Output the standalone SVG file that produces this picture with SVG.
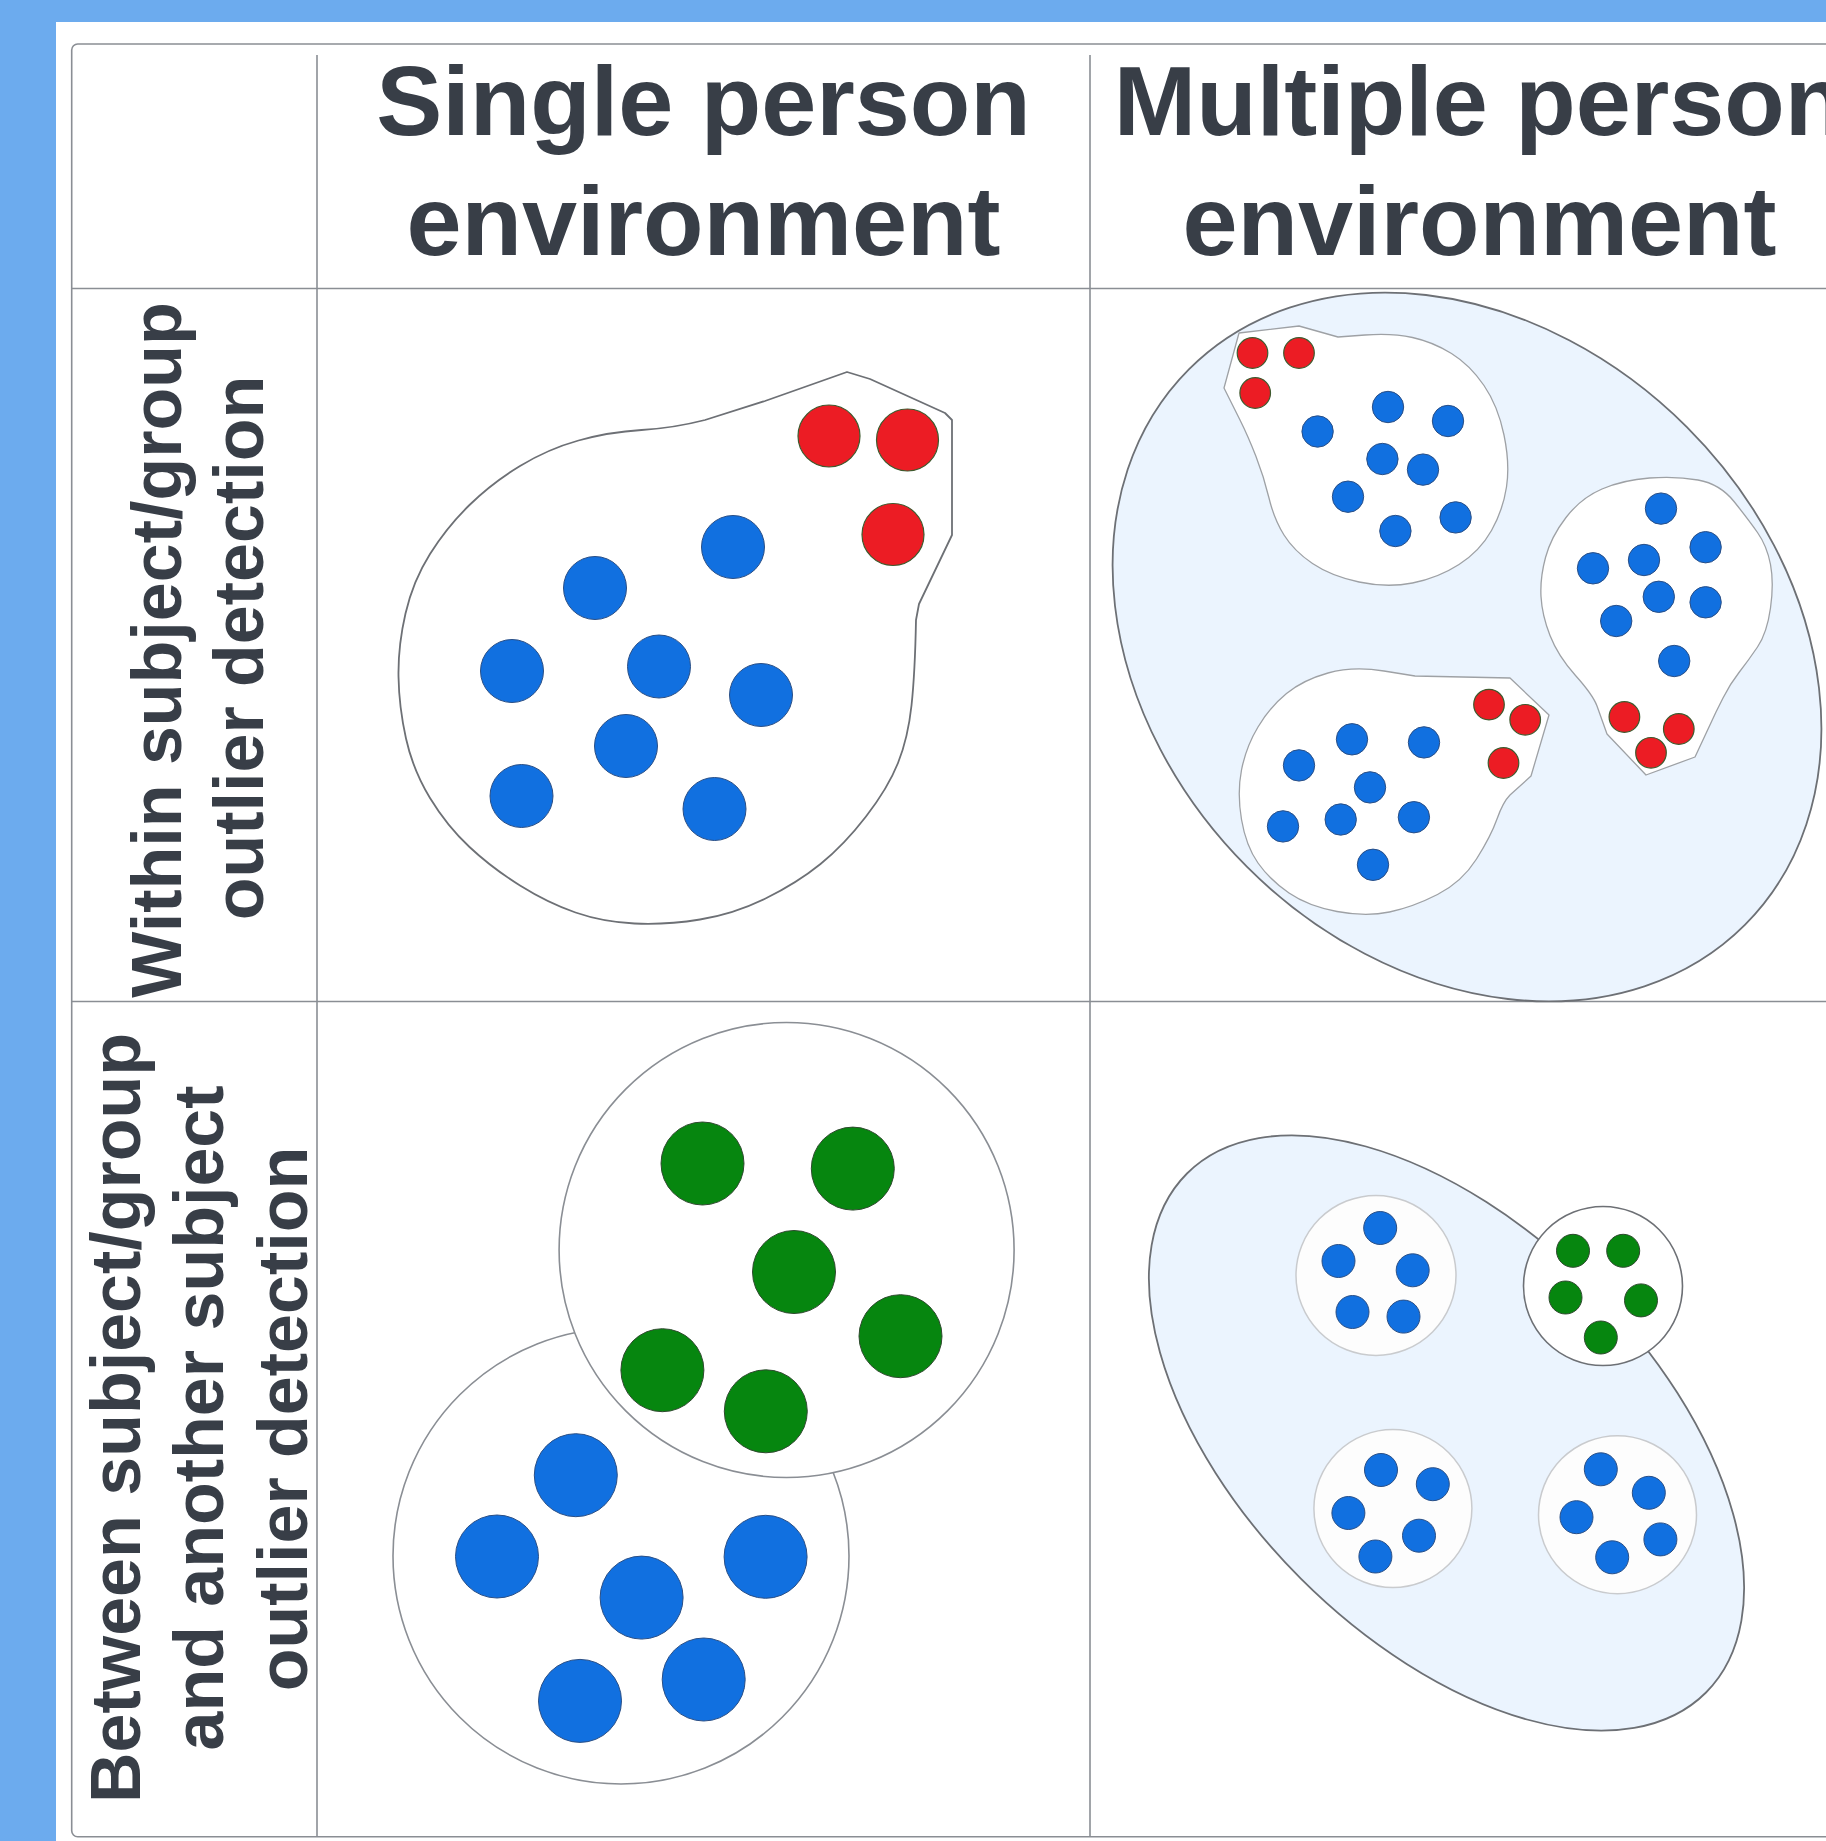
<svg xmlns="http://www.w3.org/2000/svg" width="1826" height="1841" viewBox="0 0 1826 1841">
<style>
.t{font-family:"Liberation Sans",Arial,sans-serif;font-weight:bold;fill:#383e47;text-anchor:middle}
.h{font-size:99px}
.r{font-size:70px}
.grid{stroke:#8a8e94;stroke-width:1.6;fill:none}
.blob{fill:#fff;stroke:#6d7075;stroke-width:1.8;stroke-linejoin:round}
.sub{fill:#fff;stroke:#9ea1a5;stroke-width:1.3;stroke-linejoin:round}
.env{fill:#ebf4fe;stroke:#6d7075;stroke-width:1.8}
.bl{fill:#1170e0;stroke:#2a4f86;stroke-width:1}
.rd{fill:#ec1c24;stroke:#3d5a2e;stroke-width:1.2}
.gr{fill:#06860f;stroke:#2f4a2f;stroke-width:1}
.ring{fill:#fdfdfd;stroke:#c9cbce;stroke-width:1.5}
.ring2{fill:#fff;stroke:#6d7075;stroke-width:1.6}
.big{fill:#fff;stroke:#8a8e94;stroke-width:1.6}
</style>
<rect x="0" y="0" width="1826" height="1841" fill="#6cabee"/>
<rect x="56" y="22" width="1770" height="1819" fill="#fff"/>

<g id="table">
<rect class="grid" x="71.7" y="44" width="1830" height="1792.7" rx="6"/>
<line class="grid" x1="71.7" y1="288.5" x2="1826" y2="288.5"/>
<line class="grid" x1="71.7" y1="1001.5" x2="1826" y2="1001.5"/>
<line class="grid" x1="317" y1="55" x2="317" y2="1836.7"/>
<line class="grid" x1="1090" y1="55" x2="1090" y2="1836.7"/>
</g>

<g id="header-single">
<text class="t h" x="703.5" y="135">Single person</text>
<text class="t h" x="703.5" y="255">environment</text>
</g>
<g id="header-multiple">
<text class="t h" x="1479.5" y="135">Multiple person</text>
<text class="t h" x="1479.5" y="255">environment</text>
</g>
<g id="label-within">
<text class="t r" x="181" y="650" transform="rotate(-90 181 650)">Within subject/group</text>
<text class="t r" x="263" y="648" transform="rotate(-90 263 648)">outlier detection</text>
</g>
<g id="label-between">
<text class="t r" x="140" y="1418" transform="rotate(-90 140 1418)">Between subject/group</text>
<text class="t r" x="223" y="1418" transform="rotate(-90 223 1418)">and another subject</text>
<text class="t r" x="307" y="1419" transform="rotate(-90 307 1419)">outlier detection</text>
</g>

<g id="cell-within-single">
<path class="blob" d="M847,372 L870,379 L945,413 L952,420 L952,535 L919,604 L916,620 Q915,673 911.5,705.5 Q908,738 898,763 Q888,788 866,816.5 Q844,845 820.5,864 Q797,883 765.5,898.5 Q734,914 700,919.5 Q666,925 634.5,923.5 Q603,922 575.5,912.5 Q548,903 520,885.5 Q492,868 469.5,847 Q447,826 430,798 Q413,770 406,738.5 Q399,707 398.5,676.5 Q398,646 405.5,613.5 Q413,581 430,554 Q447,527 469.5,505 Q492,483 520,466 Q548,449 578.5,440.5 Q609,432 641.5,430 Q674,428 705,420 L765,401 Z"/>
<circle class="rd" cx="829" cy="436" r="31"/>
<circle class="rd" cx="907.5" cy="440" r="31"/>
<circle class="rd" cx="893" cy="534.5" r="31"/>
<circle class="bl" cx="733" cy="547" r="31.5"/>
<circle class="bl" cx="595" cy="588" r="31.5"/>
<circle class="bl" cx="512" cy="671" r="31.5"/>
<circle class="bl" cx="659" cy="666.5" r="31.5"/>
<circle class="bl" cx="761" cy="695" r="31.5"/>
<circle class="bl" cx="626" cy="746" r="31.5"/>
<circle class="bl" cx="521.5" cy="796" r="31.5"/>
<circle class="bl" cx="714.5" cy="809" r="31.5"/>
</g>

<g id="cell-within-multiple">
<ellipse class="env" cx="1467" cy="647" rx="393" ry="311" transform="rotate(45 1467 647)"/>
<g id="group-a">
<path class="sub" d="M1224,388 L1239,333 L1299,326 L1338,337 L1365,335 Q1392,333 1412.5,337.5 Q1433,342 1451.5,353.5 Q1470,365 1484,385.5 Q1498,406 1504,435 Q1510,464 1506.5,487 Q1503,510 1491.5,530.5 Q1480,551 1459,564.5 Q1438,578 1412.5,583 Q1387,588 1359,582 Q1331,576 1312.5,563.5 Q1294,551 1284,535 Q1274,519 1269,498 Q1264,477 1256,456.5 Q1248,436 1240,420 Z"/>
<circle class="rd" cx="1252.5" cy="353" r="15.3"/>
<circle class="rd" cx="1299" cy="353" r="15.3"/>
<circle class="rd" cx="1255.2" cy="393" r="15.3"/>
<circle class="bl" cx="1388" cy="407" r="15.7"/>
<circle class="bl" cx="1448" cy="421" r="15.7"/>
<circle class="bl" cx="1317.6" cy="431.5" r="15.7"/>
<circle class="bl" cx="1382.4" cy="459" r="15.7"/>
<circle class="bl" cx="1423" cy="469.6" r="15.7"/>
<circle class="bl" cx="1348" cy="496.7" r="15.7"/>
<circle class="bl" cx="1455.6" cy="517.4" r="15.7"/>
<circle class="bl" cx="1395.4" cy="531" r="15.7"/>
</g>
<g id="group-b">
<path class="sub" d="M1695,757 L1646,775 L1607,734 L1597,706 Q1593,695 1575.5,675.5 Q1558,656 1550,635.5 Q1542,615 1541,596.5 Q1540,578 1545.5,557.5 Q1551,537 1566,517.5 Q1581,498 1602,489 Q1623,480 1649.5,478 Q1676,476 1698,480 Q1720,484 1734,501.5 Q1748,519 1757.5,532.5 Q1767,546 1770.5,564.5 Q1774,583 1770.5,608 Q1767,633 1757.5,647 Q1748,661 1739,672.5 Q1730,684 1723,698 L1716,712 Z"/>
<circle class="bl" cx="1661" cy="508.6" r="15.7"/>
<circle class="bl" cx="1705.6" cy="547.2" r="15.7"/>
<circle class="bl" cx="1644" cy="560" r="15.7"/>
<circle class="bl" cx="1593" cy="568.3" r="15.7"/>
<circle class="bl" cx="1658.8" cy="596.8" r="15.7"/>
<circle class="bl" cx="1705.6" cy="602.3" r="15.7"/>
<circle class="bl" cx="1616.2" cy="621" r="15.7"/>
<circle class="bl" cx="1674.2" cy="661" r="15.7"/>
<circle class="rd" cx="1624.4" cy="717" r="15.3"/>
<circle class="rd" cx="1678.8" cy="729" r="15.3"/>
<circle class="rd" cx="1651" cy="752.8" r="15.3"/>
</g>
<g id="group-c">
<path class="sub" d="M1415,676 L1510,678 L1549,715 L1531,776 L1510,795 Q1503,802 1497,819 Q1491,836 1476.5,859 Q1462,882 1437.5,894.5 Q1413,907 1389.5,912 Q1366,917 1337,911.5 Q1308,906 1289,893 Q1270,880 1258,863 Q1246,846 1241.5,819.5 Q1237,793 1241.5,770 Q1246,747 1258,727 Q1270,707 1286.5,693.5 Q1303,680 1328,673 Q1353,666 1384,671 Z"/>
<circle class="rd" cx="1489" cy="704.6" r="15.3"/>
<circle class="rd" cx="1525.2" cy="719.8" r="15.3"/>
<circle class="rd" cx="1503.5" cy="763" r="15.3"/>
<circle class="bl" cx="1352" cy="739.3" r="15.7"/>
<circle class="bl" cx="1424" cy="742.4" r="15.7"/>
<circle class="bl" cx="1299" cy="765.4" r="15.7"/>
<circle class="bl" cx="1370" cy="787.4" r="15.7"/>
<circle class="bl" cx="1340.7" cy="819.5" r="15.7"/>
<circle class="bl" cx="1413.9" cy="817.2" r="15.7"/>
<circle class="bl" cx="1283" cy="826.4" r="15.7"/>
<circle class="bl" cx="1373" cy="864.8" r="15.7"/>
</g>
</g>

<g id="cell-between-single">
<g id="group-blue">
<circle class="big" cx="621" cy="1556" r="228"/>
<circle class="bl" cx="575.8" cy="1475.2" r="41.5"/>
<circle class="bl" cx="497" cy="1556.5" r="41.5"/>
<circle class="bl" cx="765.6" cy="1556.8" r="41.5"/>
<circle class="bl" cx="641.6" cy="1597.6" r="41.5"/>
<circle class="bl" cx="703.7" cy="1679.5" r="41.5"/>
<circle class="bl" cx="580" cy="1700.9" r="41.5"/>
</g>
<g id="group-green">
<circle class="big" cx="786.6" cy="1250" r="227.5"/>
<circle class="gr" cx="702.5" cy="1163.5" r="41.5"/>
<circle class="gr" cx="852.8" cy="1168.6" r="41.5"/>
<circle class="gr" cx="794" cy="1272" r="41.5"/>
<circle class="gr" cx="900.5" cy="1336.2" r="41.5"/>
<circle class="gr" cx="662.4" cy="1370.2" r="41.5"/>
<circle class="gr" cx="765.8" cy="1411.3" r="41.5"/>
</g>
</g>

<g id="cell-between-multiple">
<ellipse class="env" cx="1446.5" cy="1433" rx="367" ry="206" transform="rotate(45 1446.5 1433)"/>
<g id="ring-1">
<circle class="ring" cx="1376" cy="1275.4" r="80"/>
<circle class="bl" cx="1380.2" cy="1228" r="16.5"/>
<circle class="bl" cx="1338.5" cy="1261" r="16.5"/>
<circle class="bl" cx="1412.7" cy="1270.3" r="16.5"/>
<circle class="bl" cx="1352.5" cy="1312" r="16.5"/>
<circle class="bl" cx="1403.5" cy="1316.6" r="16.5"/>
</g>
<g id="ring-green">
<circle class="ring2" cx="1603" cy="1286" r="79.5"/>
<circle class="gr" cx="1573" cy="1250.8" r="16.5"/>
<circle class="gr" cx="1623.2" cy="1250.8" r="16.5"/>
<circle class="gr" cx="1565.5" cy="1297.5" r="16.5"/>
<circle class="gr" cx="1641" cy="1300.4" r="16.5"/>
<circle class="gr" cx="1600.8" cy="1337.5" r="16.5"/>
</g>
<g id="ring-3">
<circle class="ring" cx="1392.9" cy="1508.6" r="79"/>
<circle class="bl" cx="1381" cy="1470" r="16.5"/>
<circle class="bl" cx="1432.8" cy="1484.2" r="16.5"/>
<circle class="bl" cx="1348.4" cy="1513" r="16.5"/>
<circle class="bl" cx="1419" cy="1535.7" r="16.5"/>
<circle class="bl" cx="1375.4" cy="1556.5" r="16.5"/>
</g>
<g id="ring-4">
<circle class="ring" cx="1617.5" cy="1514.7" r="79"/>
<circle class="bl" cx="1600.8" cy="1469.3" r="16.5"/>
<circle class="bl" cx="1648.8" cy="1492.8" r="16.5"/>
<circle class="bl" cx="1576.5" cy="1517.2" r="16.5"/>
<circle class="bl" cx="1660.4" cy="1539.4" r="16.5"/>
<circle class="bl" cx="1612.2" cy="1557.3" r="16.5"/>
</g>
</g>
</svg>
